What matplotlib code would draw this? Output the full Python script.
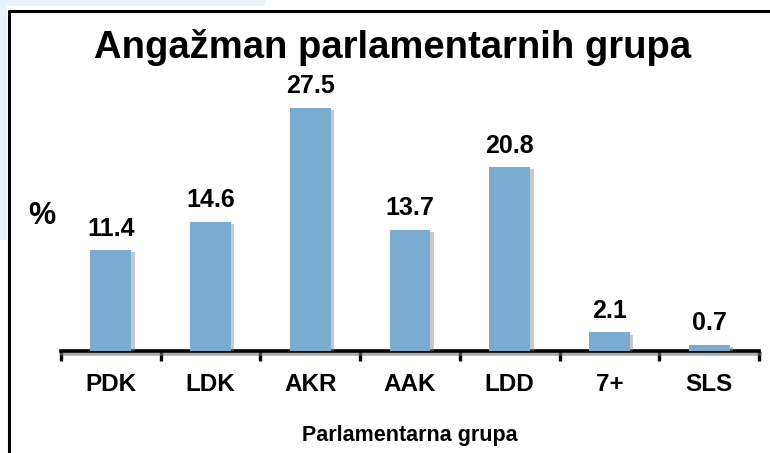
import matplotlib
matplotlib.use("Agg")
import matplotlib.pyplot as plt
import matplotlib.patheffects as pe
from matplotlib.patches import Rectangle
from matplotlib.lines import Line2D

groups = ["PDK", "LDK", "AKR", "AAK", "LDD", "7+", "SLS"]
values = [11.4, 14.6, 27.5, 13.7, 20.8, 2.1, 0.7]
value_labels = ["11.4", "14.6", "27.5", "13.7", "20.8", "2.1", "0.7"]

plt.rcParams['font.family'] = ['Liberation Sans', 'DejaVu Sans']

W, H = 770, 453
fig = plt.figure(figsize=(W / 100, H / 100), dpi=100)
fig.patch.set_facecolor("white")

# faint page background outside the frame
fig.patches.append(Rectangle((0, 1 - 240 / H), 7 / W, 240 / H, transform=fig.transFigure,
                             facecolor="#eaf1f8", edgecolor="none", zorder=0))
fig.patches.append(Rectangle((0, 1 - 6 / H), 265 / W, 6 / H, transform=fig.transFigure,
                             facecolor="#eaf1f8", edgecolor="none", zorder=0))
# frame (left and top edges)
fig.lines.append(Line2D([8.5 / W, 8.5 / W, 1.0], [0, 1 - 11 / H, 1 - 11 / H],
                        transform=fig.transFigure, color="black", lw=2.2))

ax = fig.add_axes([61 / W, (H - 351) / H, (759 - 61) / W, 265 / H])
ax.set_xlim(-0.5, len(groups) - 0.5)
ax.set_ylim(0, 30)

shadow = [pe.SimplePatchShadow(offset=(2.5, -1.5), shadow_rgbFace="#888888", alpha=0.45), pe.Normal()]
bars = ax.bar(range(len(groups)), values, width=0.41, color="#79acd0", zorder=3)
for b in bars:
    b.set_path_effects(shadow)

for i, (v, t) in enumerate(zip(values, value_labels)):
    ax.annotate(t, (i, v), xytext=(0, 7), textcoords="offset points",
                ha="center", va="bottom", fontsize=18, fontweight="bold")

for s in ["top", "right", "left"]:
    ax.spines[s].set_visible(False)
ax.spines["bottom"].set_linewidth(2.6)
ax.spines["bottom"].set_path_effects([pe.SimpleLineShadow(offset=(1, -2.5), shadow_color="#777777", alpha=0.6), pe.Normal()])
ax.set_yticks([])

# ticks on category boundaries, labels at centres
ax.set_xticks([i - 0.5 for i in range(len(groups) + 1)])
ax.set_xticks(range(len(groups)), minor=True)
ax.set_xticklabels([])
ax.set_xticklabels(groups, minor=True, fontsize=17.5, fontweight="bold")
ax.tick_params(axis="x", which="major", direction="out", length=7, width=2.4)
ax.tick_params(axis="x", which="minor", length=0, pad=16)

ax.set_xlabel("Parlamentarna grupa", fontsize=15.5, fontweight="bold", labelpad=21)

fig.text(42 / W, 1 - 216 / H, "%", fontsize=22, fontweight="bold", ha="center", va="center")
fig.text(393 / W, 1 - 48 / H, "Angažman parlamentarnih grupa", fontsize=27.5,
         fontweight="bold", ha="center", va="center")

fig.savefig("out.png", dpi=100)
